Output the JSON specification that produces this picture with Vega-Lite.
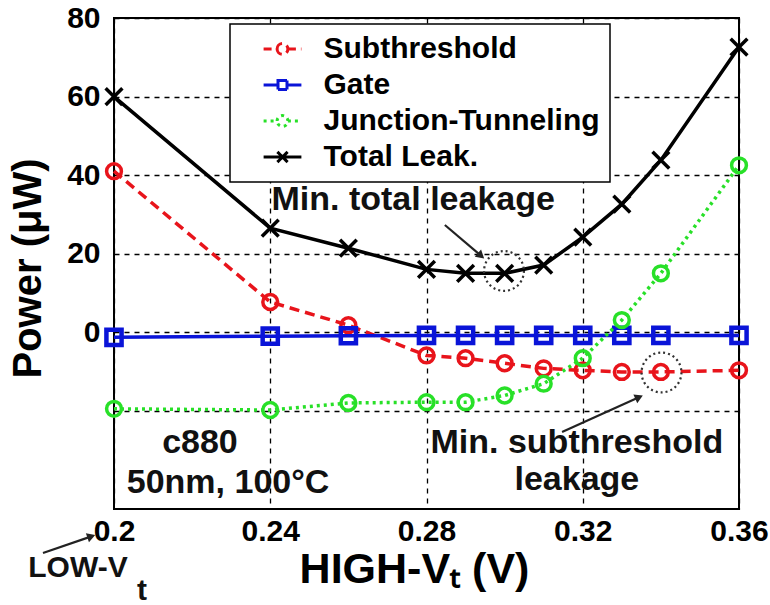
{
  "$schema": "https://vega.github.io/schema/vega-lite/v6.json",
  "width": 625,
  "height": 491,
  "autosize": "none",
  "padding": {"left": 114, "top": 18, "right": 31, "bottom": 96},
  "background": "white",
  "config": {
    "font": "Liberation Sans",
    "view": {"stroke": "black", "strokeWidth": 2},
    "legend": {"strokeWidth": 1.5}
  },
  "datasets": {
    "leak": [
      {"x": 0.20, "y": 41.0, "series": "Subthreshold"},
      {"x": 0.24, "y": 7.7, "series": "Subthreshold"},
      {"x": 0.26, "y": 1.8, "series": "Subthreshold"},
      {"x": 0.28, "y": -5.9, "series": "Subthreshold"},
      {"x": 0.29, "y": -6.6, "series": "Subthreshold"},
      {"x": 0.30, "y": -7.9, "series": "Subthreshold"},
      {"x": 0.31, "y": -9.2, "series": "Subthreshold"},
      {"x": 0.32, "y": -9.7, "series": "Subthreshold"},
      {"x": 0.33, "y": -10.1, "series": "Subthreshold"},
      {"x": 0.34, "y": -10.1, "series": "Subthreshold"},
      {"x": 0.36, "y": -9.7, "series": "Subthreshold"},
      {"x": 0.20, "y": -1.3, "series": "Gate"},
      {"x": 0.24, "y": -1.0, "series": "Gate"},
      {"x": 0.26, "y": -0.9, "series": "Gate"},
      {"x": 0.28, "y": -0.8, "series": "Gate"},
      {"x": 0.29, "y": -0.8, "series": "Gate"},
      {"x": 0.30, "y": -0.8, "series": "Gate"},
      {"x": 0.31, "y": -0.8, "series": "Gate"},
      {"x": 0.32, "y": -0.8, "series": "Gate"},
      {"x": 0.33, "y": -0.8, "series": "Gate"},
      {"x": 0.34, "y": -0.8, "series": "Gate"},
      {"x": 0.36, "y": -0.8, "series": "Gate"},
      {"x": 0.20, "y": -19.5, "series": "Junction-Tunneling"},
      {"x": 0.24, "y": -19.8, "series": "Junction-Tunneling"},
      {"x": 0.26, "y": -18.0, "series": "Junction-Tunneling"},
      {"x": 0.28, "y": -17.8, "series": "Junction-Tunneling"},
      {"x": 0.29, "y": -17.8, "series": "Junction-Tunneling"},
      {"x": 0.30, "y": -16.1, "series": "Junction-Tunneling"},
      {"x": 0.31, "y": -13.1, "series": "Junction-Tunneling"},
      {"x": 0.32, "y": -6.6, "series": "Junction-Tunneling"},
      {"x": 0.33, "y": 3.1, "series": "Junction-Tunneling"},
      {"x": 0.34, "y": 15.0, "series": "Junction-Tunneling"},
      {"x": 0.36, "y": 42.5, "series": "Junction-Tunneling"},
      {"x": 0.20, "y": 60.0, "series": "Total Leak."},
      {"x": 0.24, "y": 26.5, "series": "Total Leak."},
      {"x": 0.26, "y": 21.4, "series": "Total Leak."},
      {"x": 0.28, "y": 16.0, "series": "Total Leak."},
      {"x": 0.29, "y": 15.0, "series": "Total Leak."},
      {"x": 0.30, "y": 15.0, "series": "Total Leak."},
      {"x": 0.31, "y": 17.1, "series": "Total Leak."},
      {"x": 0.32, "y": 24.2, "series": "Total Leak."},
      {"x": 0.33, "y": 32.6, "series": "Total Leak."},
      {"x": 0.34, "y": 43.8, "series": "Total Leak."},
      {"x": 0.36, "y": 72.6, "series": "Total Leak."}
    ],
    "notes": [
      {"x": 0.2766, "y": 33.7, "text": "Min. total leakage"},
      {"x": 0.222, "y": -28.2, "text": "c880"},
      {"x": 0.2292, "y": -38.4, "text": "50nm, 100°C"},
      {"x": 0.3185, "y": -28.2, "text": "Min. subthreshold"},
      {"x": 0.3185, "y": -37.6, "text": "leakage"}
    ],
    "low": [
      {"x": 0.19078, "y": -60.0, "text": "LOW-V"},
      {"x": 0.20717, "y": -66.0, "text": "t"}
    ],
    "circles": [
      {"x": 0.29984, "y": 15.6},
      {"x": 0.34016, "y": -10.25}
    ],
    "arrows": [
      {"id": "total", "x": 0.2847, "y": 27.3, "x2": 0.2937, "y2": 19.7},
      {"id": "sub", "x": 0.3147, "y": -25.4, "x2": 0.3341, "y2": -16.7},
      {"id": "low", "x": 0.18182, "y": -56.2, "x2": 0.19386, "y2": -52.1}
    ]
  },
  "encoding": {
    "x": {
      "field": "x", "type": "quantitative",
      "scale": {"domain": [0.2, 0.36], "nice": false, "zero": false},
      "axis": {
        "title": "HIGH-Vₜ (V)",
        "values": [0.2, 0.24, 0.28, 0.32, 0.36],
        "format": ".2~f",
        "labelFontSize": 30, "labelFontWeight": "bold", "labelColor": "black",
        "labelPadding": 7, "labelFlush": false,
        "titleFontSize": 43, "titleFontWeight": "bold", "titleColor": "black",
        "titlePadding": 2, "titleX": 300,
        "grid": true, "gridColor": "black", "gridDash": [5, 5], "gridWidth": 1.3, "gridOpacity": 1,
        "domain": false, "ticks": false
      }
    },
    "y": {
      "field": "y", "type": "quantitative",
      "scale": {"domain": [-45, 80], "nice": false, "zero": false},
      "axis": {
        "title": "Power (μW)",
        "values": [-20, 0, 20, 40, 60, 80],
        "labelExpr": "datum.value < 0 ? '' : datum.label",
        "labelFontSize": 30, "labelFontWeight": "bold", "labelColor": "black",
        "labelPadding": 14, "labelFlush": false,
        "titleFontSize": 40, "titleFontWeight": "bold", "titleColor": "black",
        "titlePadding": 18, "titleY": 250,
        "grid": true, "gridColor": "black", "gridDash": [5, 5], "gridWidth": 1.3, "gridOpacity": 1,
        "domain": false, "ticks": false
      }
    }
  },
  "layer": [
    {"data": {"name": "leak"}, "transform": [{"filter": "datum.series == 'Subthreshold'"}],
     "mark": {"type": "line", "color": "#e8141b", "strokeWidth": 3.5, "strokeDash": [10, 6]}, "encoding": {}},
    {"data": {"name": "leak"}, "transform": [{"filter": "datum.series == 'Subthreshold'"}],
     "mark": {"type": "point", "shape": "circle", "filled": false, "size": 220, "strokeWidth": 3.5, "color": "#e8141b", "opacity": 1}, "encoding": {}},
    {"data": {"name": "leak"}, "transform": [{"filter": "datum.series == 'Gate'"}],
     "mark": {"type": "line", "color": "#0a14d8", "strokeWidth": 3.5}, "encoding": {}},
    {"data": {"name": "leak"}, "transform": [{"filter": "datum.series == 'Gate'"}],
     "mark": {"type": "point", "shape": "square", "filled": false, "size": 230, "strokeWidth": 4.5, "color": "#0a14d8", "opacity": 1}, "encoding": {}},
    {"data": {"name": "leak"}, "transform": [{"filter": "datum.series == 'Junction-Tunneling'"}],
     "mark": {"type": "line", "color": "#28e028", "strokeWidth": 3.5, "strokeDash": [3, 4]}, "encoding": {}},
    {"data": {"name": "leak"}, "transform": [{"filter": "datum.series == 'Junction-Tunneling'"}],
     "mark": {"type": "point", "shape": "circle", "filled": false, "size": 220, "strokeWidth": 3.5, "color": "#28e028", "opacity": 1}, "encoding": {}},
    {"data": {"name": "leak"}, "transform": [{"filter": "datum.series == 'Total Leak.'"}],
     "mark": {"type": "line", "color": "black", "strokeWidth": 3.5}, "encoding": {}},
    {"data": {"name": "leak"}, "transform": [{"filter": "datum.series == 'Total Leak.'"}],
     "mark": {"type": "point", "shape": "M-1,-1L1,1M-1,1L1,-1", "filled": false, "size": 280, "strokeWidth": 3.5, "color": "black", "opacity": 1}, "encoding": {}},
    {"data": {"name": "leak"}, "transform": [{"filter": "false"}],
     "mark": {"type": "point", "filled": false, "strokeWidth": 3, "size": 144, "opacity": 1},
     "encoding": {
       "color": {"field": "series", "type": "nominal",
         "scale": {"domain": ["Subthreshold", "Gate", "Junction-Tunneling", "Total Leak."], "range": ["#e8141b", "#0a14d8", "#28e028", "black"]},
         "legend": {"title": null, "orient": "none", "legendX": 116, "legendY": 6,
           "strokeColor": "black", "fillColor": "white", "padding": 10,
           "labelFontSize": 30, "labelFontWeight": "bold", "labelColor": "black", "labelLimit": 500,
           "labelExpr": "datum.label + '  '",
           "symbolSize": 144, "symbolStrokeWidth": 3, "symbolOffset": 27.5, "labelOffset": 26,
           "rowPadding": 6, "symbolLimit": 10}},
       "shape": {"field": "series", "type": "nominal",
         "scale": {"domain": ["Subthreshold", "Gate", "Junction-Tunneling", "Total Leak."],
           "range": [
             "M-3.15,0H-0.9M0.9,0H3.15M-0.9,0A0.9,0.9,0,1,1,0.9,0A0.9,0.9,0,1,1,-0.9,0",
             "M-3.15,0H-0.75M0.75,0H3.15M-0.75,-0.75H0.75V0.75H-0.75Z",
             "M-3.15,0H-0.9M0.9,0H3.15M-0.9,0A0.9,0.9,0,1,1,0.9,0A0.9,0.9,0,1,1,-0.9,0",
             "M-3.15,0H3.15M-0.85,-0.85L0.85,0.85M-0.85,0.85L0.85,-0.85"
           ]}},
       "strokeDash": {"field": "series", "type": "nominal",
         "scale": {"domain": ["Subthreshold", "Gate", "Junction-Tunneling", "Total Leak."], "range": [[8, 5], [1, 0], [3, 4], [1, 0]]}}
     }},
    {"data": {"name": "circles"},
     "mark": {"type": "point", "shape": "circle", "filled": false, "size": 1590, "strokeWidth": 2.2, "strokeDash": [2, 3], "color": "#333333", "opacity": 1}, "encoding": {}},
    {"data": {"name": "arrows"},
     "mark": {"type": "rule", "color": "#222222", "strokeWidth": 2.2},
     "encoding": {"x2": {"field": "x2"}, "y2": {"field": "y2"}}},
    {"data": {"name": "arrows"}, "transform": [{"filter": "datum.id == 'total'"}],
     "mark": {"type": "point", "shape": "triangle", "filled": true, "size": 90, "angle": 131, "color": "#222222", "opacity": 1},
     "encoding": {"x": {"field": "x2", "type": "quantitative"}, "y": {"field": "y2", "type": "quantitative"}}},
    {"data": {"name": "arrows"}, "transform": [{"filter": "datum.id == 'sub'"}],
     "mark": {"type": "point", "shape": "triangle", "filled": true, "size": 90, "angle": 66, "color": "#222222", "opacity": 1},
     "encoding": {"x": {"field": "x2", "type": "quantitative"}, "y": {"field": "y2", "type": "quantitative"}}},
    {"data": {"name": "arrows"}, "transform": [{"filter": "datum.id == 'low'"}],
     "mark": {"type": "point", "shape": "triangle", "filled": true, "size": 90, "angle": 71, "color": "#222222", "opacity": 1},
     "encoding": {"x": {"field": "x2", "type": "quantitative"}, "y": {"field": "y2", "type": "quantitative"}}},
    {"data": {"name": "notes"},
     "mark": {"type": "text", "fontSize": 34, "fontWeight": "bold", "color": "#111111", "align": "center", "baseline": "middle"},
     "encoding": {"text": {"field": "text"}}},
    {"data": {"name": "low"},
     "mark": {"type": "text", "fontSize": 30, "fontWeight": "bold", "color": "#111111", "align": "center", "baseline": "middle"},
     "encoding": {"text": {"field": "text"}}}
  ]
}
